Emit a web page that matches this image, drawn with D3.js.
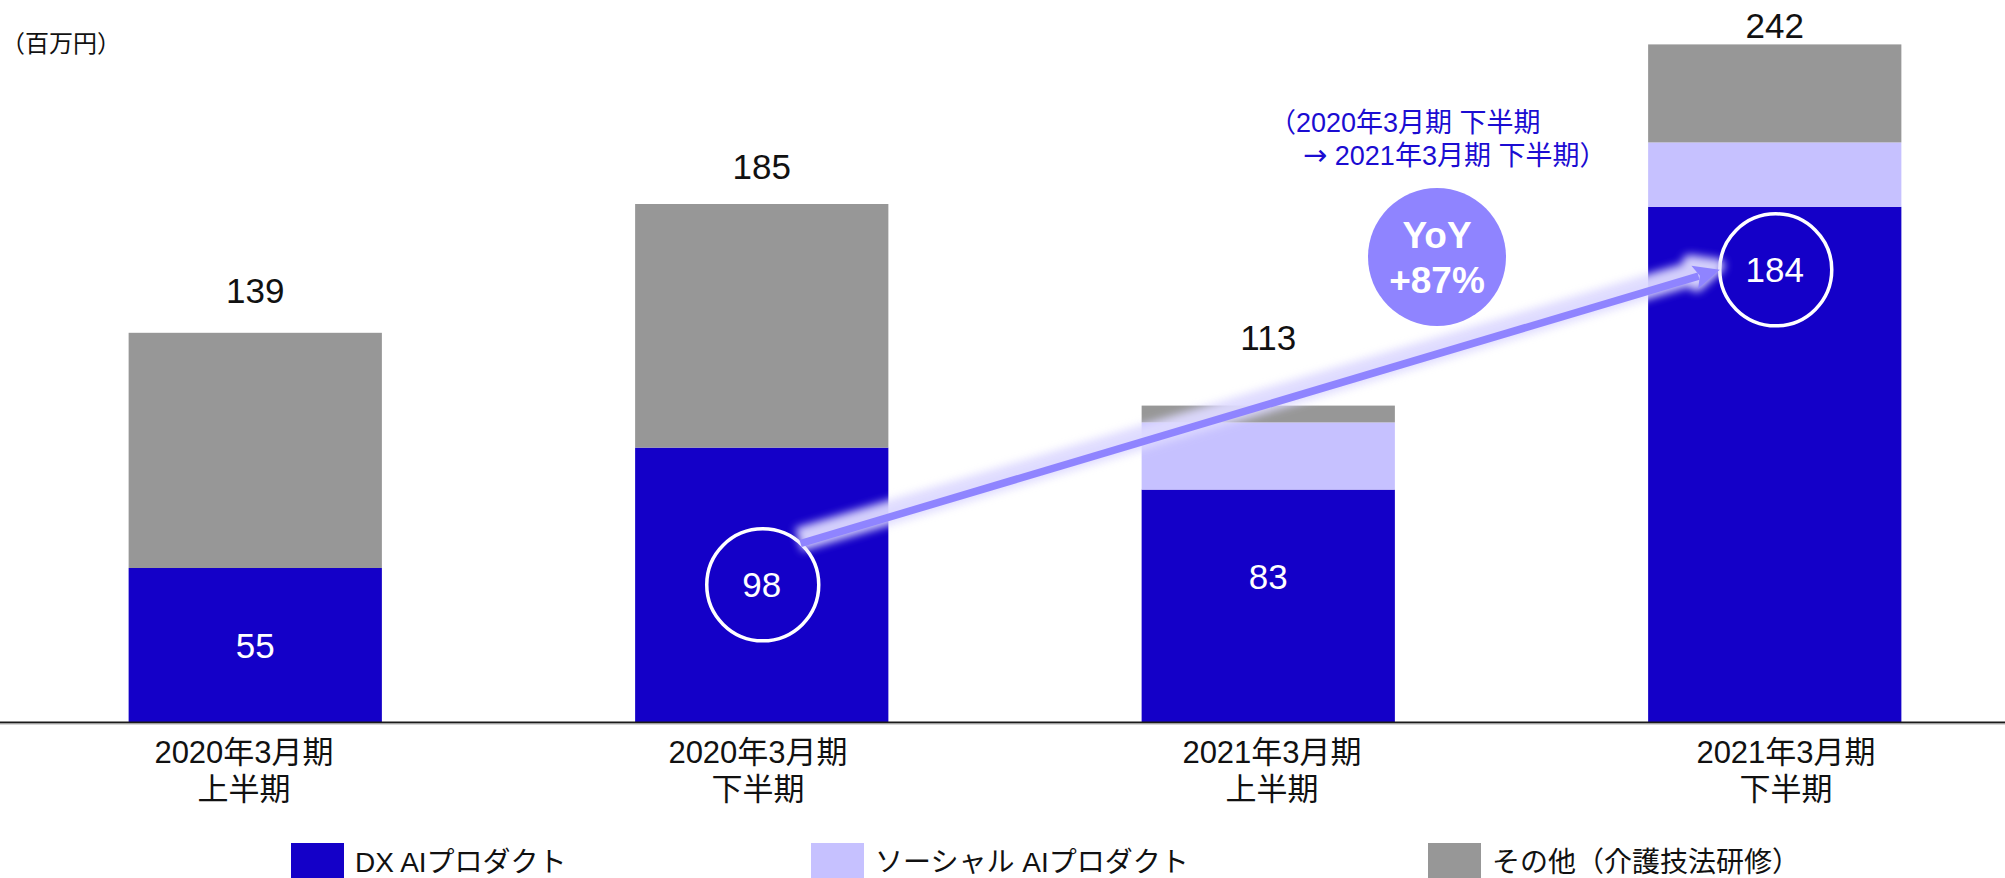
<!DOCTYPE html>
<html>
<head>
<meta charset="utf-8">
<script src="https://cdn.jsdelivr.net/npm/d3@7"></script>
<style>
  html, body { margin: 0; padding: 0; background: #fff; }
  svg { display: block; }
  text { font-family: "Liberation Sans", Arial, "Noto Sans CJK JP", sans-serif; }
</style>
</head>
<body>
<svg id="chart" width="2005" height="878"></svg>
<script>
// ---- data (百万円) ----
const periods = ["2020年3月期 上半期", "2020年3月期 下半期", "2021年3月期 上半期", "2021年3月期 下半期"];
const periodLines = [["2020年3月期", "上半期"], ["2020年3月期", "下半期"], ["2021年3月期", "上半期"], ["2021年3月期", "下半期"]];
const dxAI = [55, 98, 83, 184];
const socialAI = [0, 0, 24, 23];
const others = [84, 87, 6, 35];
const totals = [139, 185, 113, 242];
const seriesKeys = ["dx", "social", "other"];
const seriesNames = ["DX AIプロダクト", "ソーシャル AIプロダクト", "その他（介護技法研修）"];
const unitLabel = "（百万円）";
const yoyLines = ["YoY", "+87%"];
const noteLines = [["", "（2020年3月期 下半期"], ["→", " 2021年3月期 下半期）"]];
const highlighted = [1, 3];   // periods compared by the YoY arrow

// ---- layout ----
const W = 2005, H = 878;
const baseY = 722;
const colors = { dx: "#1400C8", social: "#C6C1FF", other: "#979797" };
const accent = "#8F84FF";
const totalGap = [30, 25, 56, 6];          // px between bar top and total label baseline
const innerLabelAt = [27.5, 49, 52, 161.5]; // vertical centre of DX labels, in value units

const svg = d3.select("#chart");

const table = periods.map((p, i) => ({ period: p, dx: dxAI[i], social: socialAI[i], other: others[i] }));
const stacked = d3.stack().keys(seriesKeys)(table);

const x = d3.scaleBand().domain(periods).range([2, 2028]).paddingInner(0.5).paddingOuter(0.25);
const y = d3.scaleLinear().domain([0, d3.max(totals)]).range([baseY, baseY - d3.max(totals) * 2.8]);
const xLabel = d3.scalePoint().domain(periods).range([244, 1786]);
const cx = i => x(periods[i]) + x.bandwidth() / 2;

// unit
svg.append("text").attr("x", 1).attr("y", 52).attr("font-size", 24).attr("fill", "#111").text(unitLabel);

// bars
svg.append("g").selectAll("g").data(stacked).join("g")
  .attr("fill", d => colors[d.key])
  .selectAll("rect").data(d => d).join("rect")
  .attr("x", d => x(d.data.period))
  .attr("width", x.bandwidth())
  .attr("y", d => y(d[1]))
  .attr("height", d => y(d[0]) - y(d[1]));

// baseline
svg.append("line").attr("x1", 0).attr("x2", W).attr("y1", baseY + 0.5).attr("y2", baseY + 0.5)
  .attr("stroke", "#1a1a1a").attr("stroke-width", 2);
svg.append("line").attr("x1", 0).attr("x2", W).attr("y1", baseY + 2).attr("y2", baseY + 2)
  .attr("stroke", "#b0b0b0").attr("stroke-width", 1);

// category labels
const cat = svg.append("g").attr("font-size", 31).attr("fill", "#111").attr("text-anchor", "middle");
periodLines.forEach((lines, i) => {
  lines.forEach((t, k) => {
    cat.append("text").attr("x", xLabel(periods[i])).attr("y", 763 + k * 37).text(t);
  });
});

// totals above bars
svg.append("g").attr("font-size", 35).attr("fill", "#111").attr("text-anchor", "middle")
  .selectAll("text").data(totals).join("text")
  .attr("x", (d, i) => cx(i))
  .attr("y", (d, i) => y(d) - totalGap[i])
  .text(d => d);

// DX values inside bars
svg.append("g").attr("font-size", 35).attr("fill", "#fff").attr("text-anchor", "middle")
  .selectAll("text").data(dxAI).join("text")
  .attr("x", (d, i) => cx(i))
  .attr("y", (d, i) => y(innerLabelAt[i]))
  .attr("dominant-baseline", "central")
  .text(d => d);

// rings around compared values
const ringR = 56;
svg.append("g").selectAll("circle").data(highlighted).join("circle")
  .attr("cx", i => cx(i) + 1)
  .attr("cy", i => y(innerLabelAt[i]))
  .attr("r", ringR)
  .attr("fill", "none").attr("stroke", "#fff").attr("stroke-width", 3.5);

// YoY arrow with soft glow
const [a, b] = highlighted;
const startAng = -47.5 * Math.PI / 180;
const p0 = [cx(a) + 1 + ringR * Math.cos(startAng), y(innerLabelAt[a]) + ringR * Math.sin(startAng)];
const p1 = [cx(b) + 1 - ringR, y(innerLabelAt[b])];
const dxv = p1[0] - p0[0], dyv = p1[1] - p0[1], len = Math.hypot(dxv, dyv);
const u = [dxv / len, dyv / len], n = [-u[1], u[0]];
const headL = 26, headW = 12;
const neck = [p1[0] - u[0] * headL * 0.85, p1[1] - u[1] * headL * 0.85];
const headPath = d3.path();
headPath.moveTo(p1[0], p1[1]);
headPath.lineTo(p1[0] - u[0] * headL + n[0] * headW, p1[1] - u[1] * headL + n[1] * headW);
headPath.lineTo(p1[0] - u[0] * headL * 0.8, p1[1] - u[1] * headL * 0.8);
headPath.lineTo(p1[0] - u[0] * headL - n[0] * headW, p1[1] - u[1] * headL - n[1] * headW);
headPath.closePath();

const defs = svg.append("defs");
const f = defs.append("filter").attr("id", "glow").attr("x", "-20%").attr("y", "-50%").attr("width", "140%").attr("height", "200%");
f.append("feGaussianBlur").attr("stdDeviation", 4.5);

const glow = svg.append("g").attr("filter", "url(#glow)").attr("transform", "translate(-2,-4)").attr("opacity", 0.95);
glow.append("line").attr("x1", p0[0]).attr("y1", p0[1]).attr("x2", neck[0]).attr("y2", neck[1])
  .attr("stroke", "#DEDAFF").attr("stroke-width", 24);
glow.append("path").attr("d", headPath.toString()).attr("fill", "#DEDAFF")
  .attr("stroke", "#DEDAFF").attr("stroke-width", 14).attr("stroke-linejoin", "round");

svg.append("line").attr("x1", p0[0]).attr("y1", p0[1]).attr("x2", neck[0]).attr("y2", neck[1])
  .attr("stroke", accent).attr("stroke-width", 7.5);
svg.append("path").attr("d", headPath.toString()).attr("fill", accent);

// YoY bubble
const bubble = svg.append("g");
bubble.append("circle").attr("cx", 1437).attr("cy", 257).attr("r", 69).attr("fill", accent);
bubble.selectAll("text").data(yoyLines).join("text")
  .attr("x", 1437).attr("y", (d, i) => 248 + i * 45)
  .attr("text-anchor", "middle").attr("font-size", 37).attr("font-weight", "bold").attr("fill", "#fff")
  .text(d => d);

// comparison note
const note = svg.append("g").attr("font-size", 27).attr("fill", "#1B0CD2")
  .selectAll("text").data(noteLines).join("text")
  .attr("x", (d, i) => i === 0 ? 1269 : 1303)
  .attr("y", (d, i) => 132 + i * 33);
note.append("tspan").attr("font-family", "DejaVu Sans").attr("font-size", 29).text(d => d[0]);
note.append("tspan").text(d => d[1]);

// legend
const legendX = [291, 811, 1428];
const lg = svg.append("g").selectAll("g").data(seriesKeys).join("g")
  .attr("transform", (d, i) => `translate(${legendX[i]},0)`);
lg.append("rect").attr("x", 0).attr("y", 843).attr("width", 53).attr("height", 40).attr("fill", d => colors[d]);
lg.append("text").attr("x", 64).attr("y", 872).attr("font-size", 28).attr("fill", "#111")
  .text((d, i) => seriesNames[i]);
</script>
</body>
</html>
